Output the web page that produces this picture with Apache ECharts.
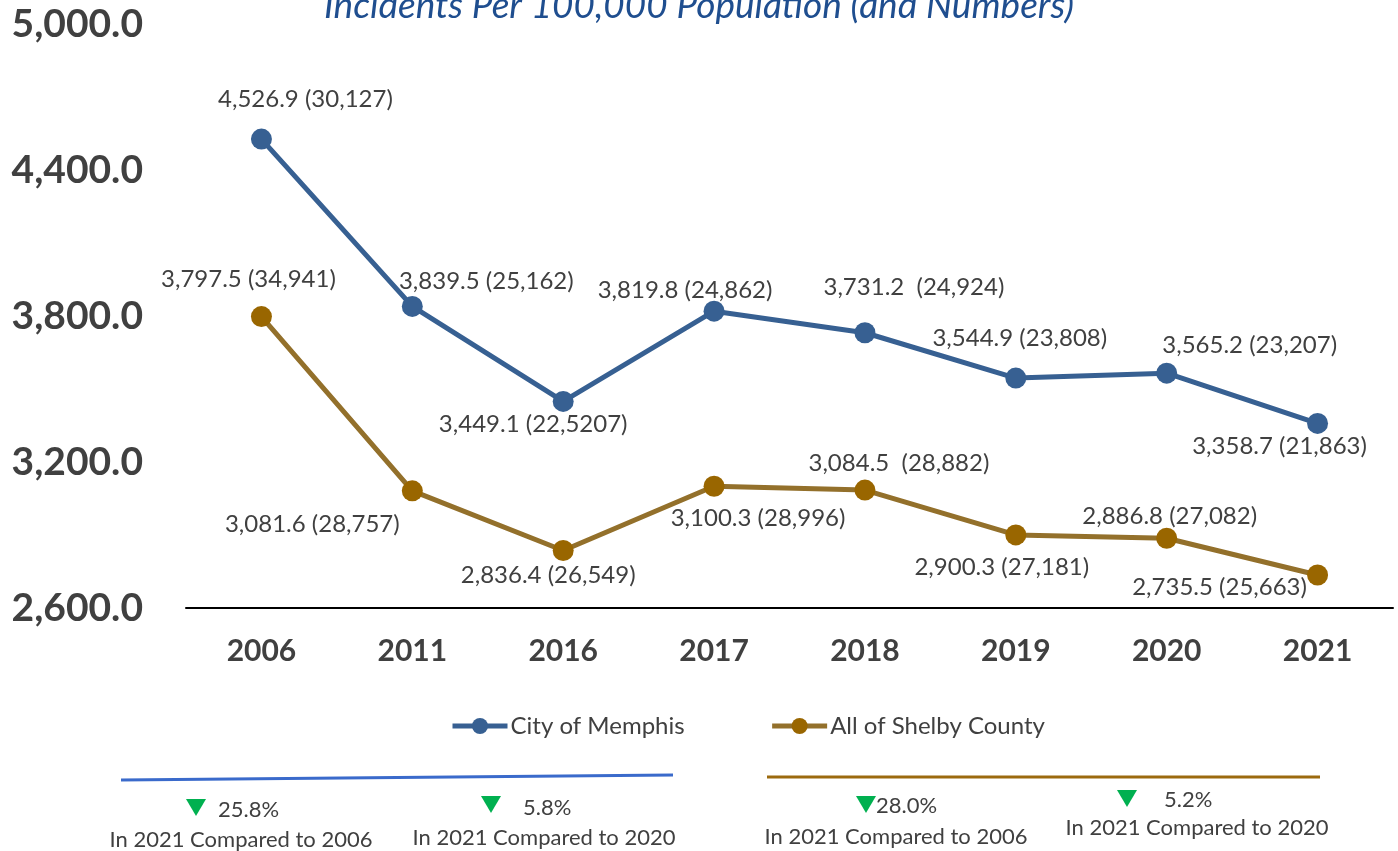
<!DOCTYPE html>
<html>
<head>
<meta charset="utf-8">
<script src="https://cdn.jsdelivr.net/npm/echarts@6/dist/echarts.min.js"></script>
<style>html,body{margin:0;padding:0;background:#fff;}#c{width:1398px;height:851px;}</style>
</head>
<body>
<div id="c"></div>
<script>
const years = ['2006','2011','2016','2017','2018','2019','2020','2021'];
const memphisRate = [4526.9, 3839.5, 3449.1, 3819.8, 3731.2, 3544.9, 3565.2, 3358.7];
const memphisCount = ['30,127','25,162','22,5207','24,862','24,924','23,808','23,207','21,863'];
const shelbyRate = [3797.5, 3081.6, 2836.4, 3100.3, 3084.5, 2900.3, 2886.8, 2735.5];
const shelbyCount = ['34,941','28,757','26,549','28,996','28,882','27,181','27,082','25,663'];
const memphisGap = ['', '', '', '', ' ', '', '', ''];
const shelbyGap = ['', '', '', '', ' ', '', '', ''];
const yTicks = { min: 2600, max: 5000, interval: 600 };
const seriesNames = ['City of Memphis', 'All of Shelby County'];
const titleText = 'Incidents Per 100,000 Population (and Numbers)';
const changeMemphis = ['25.8%', '5.8%'];
const changeShelby = ['28.0%', '5.2%'];
const changeCaption = ['In 2021 Compared to 2006', 'In 2021 Compared to 2020'];

// label offsets (layout only)
const memphisOff = [[44,-40],[74,-25],[-30,23],[-29,-21],[49,-45],[4,-40],[83,-28],[-38,23]];
const shelbyOff = [[-13,-37],[-100,33],[-15,25],[44,32],[34,-27],[-14,32],[3,-22],[-98,12]];

const FONT = 'Lato, "Open Sans", sans-serif';
const TXT = '#404040';
const fmt = v => v.toLocaleString('en-US', {minimumFractionDigits: 1, maximumFractionDigits: 1});

function build(rates, counts, gaps, offs) {
  return rates.map((v, i) => ({
    value: v,
    label: {
      show: true,
      position: 'inside',
      offset: offs[i],
      formatter: fmt(v) + ' ' + gaps[i] + '(' + counts[i] + ')',
      color: TXT, fontSize: 24, fontFamily: FONT,
      align: 'center', verticalAlign: 'middle'
    }
  }));
}

const chart = echarts.init(document.getElementById('c'), null, {renderer: 'canvas'});
const tri = (x, y) => ({
  type: 'polygon',
  shape: { points: [[x, y], [x + 20, y], [x + 10, y + 17]] },
  style: { fill: '#00B050' }
});
const txt = (x, y, s, align) => ({
  type: 'text', x: x, y: y,
  style: { text: s, fill: TXT, font: '22px ' + FONT, textAlign: align || 'left', textVerticalAlign: 'middle' }
});

chart.setOption({
  animation: false,
  backgroundColor: '#fff',
  title: {
    text: titleText, left: 'center', top: -17,
    textStyle: { color: '#1F4E8F', fontSize: 37, fontStyle: 'italic', fontWeight: 'normal', fontFamily: FONT }
  },
  grid: { left: 186, right: 5, top: 24, bottom: 243, containLabel: false },
  legend: {
    left: 450, top: 714, padding: 0,
    itemWidth: 55, itemHeight: 20, itemGap: 85,
    lineStyle: { width: 5 },
    textStyle: { color: TXT, fontSize: 24, fontFamily: FONT, padding: [0,0,0,-2] },
    data: seriesNames
  },
  xAxis: {
    type: 'category', data: years, boundaryGap: true,
    axisLine: { show: true, lineStyle: { color: '#000', width: 2 } },
    axisTick: { show: false },
    axisLabel: { color: TXT, fontSize: 30, fontWeight: 'bold', fontFamily: FONT, margin: 28 }
  },
  yAxis: {
    type: 'value', min: yTicks.min, max: yTicks.max, interval: yTicks.interval,
    axisLine: { show: false }, axisTick: { show: false }, splitLine: { show: false },
    axisLabel: {
      color: TXT, fontSize: 39, fontWeight: 'bold', fontFamily: FONT, margin: 43,
      formatter: v => fmt(v)
    }
  },
  series: [
    {
      name: seriesNames[0], type: 'line', data: build(memphisRate, memphisCount, memphisGap, memphisOff),
      symbol: 'circle', symbolSize: 21,
      lineStyle: { color: '#376092', width: 5 },
      itemStyle: { color: '#376092' }, z: 3
    },
    {
      name: seriesNames[1], type: 'line', data: build(shelbyRate, shelbyCount, shelbyGap, shelbyOff),
      symbol: 'circle', symbolSize: 21,
      lineStyle: { color: '#93702B', width: 5 },
      itemStyle: { color: '#996600' }, z: 2
    }
  ],
  graphic: [
    { type: 'line', shape: { x1: 121, y1: 780, x2: 673, y2: 775 }, style: { stroke: '#3A6ACB', lineWidth: 3 } },
    { type: 'line', shape: { x1: 767, y1: 777, x2: 1320, y2: 777 }, style: { stroke: '#9C6A0E', lineWidth: 3 } },
    tri(186, 799), txt(218, 810, changeMemphis[0]), txt(241, 840, changeCaption[0], 'center'),
    tri(481, 796), txt(523, 808, changeMemphis[1]), txt(544, 838, changeCaption[1], 'center'),
    tri(856, 796), txt(876, 806, changeShelby[0]), txt(896, 837, changeCaption[0], 'center'),
    tri(1117, 790), txt(1164, 800, changeShelby[1]), txt(1197, 828, changeCaption[1], 'center')
  ]
});
</script>
</body>
</html>
